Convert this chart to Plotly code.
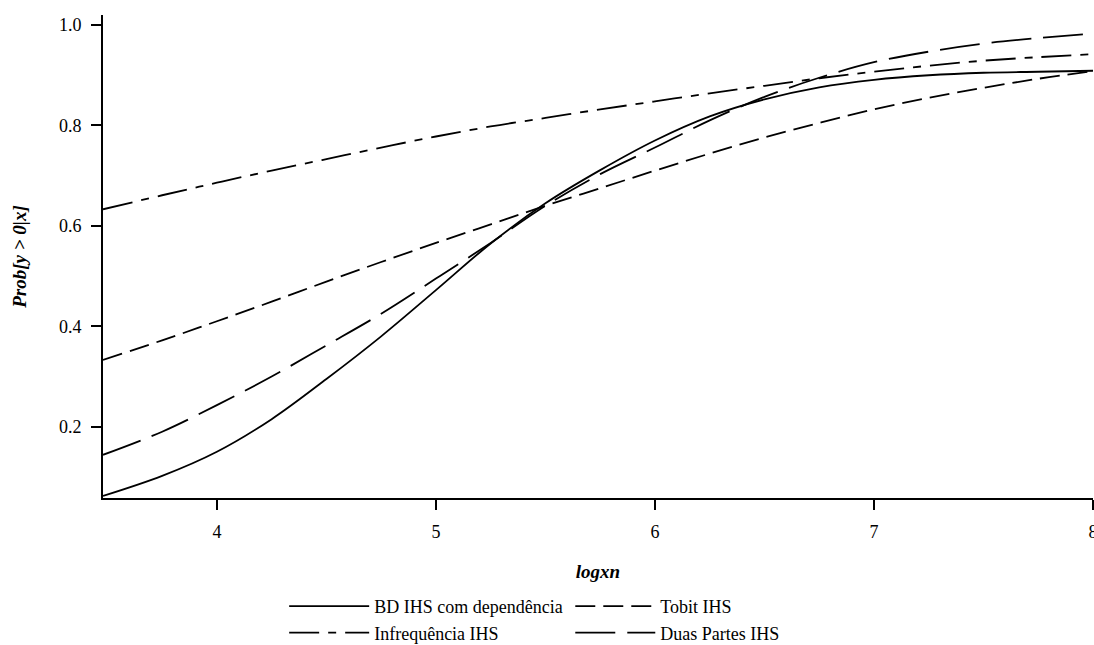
import plotly.graph_objects as go

logxn = [3.48, 3.75, 4.0, 4.25, 4.5, 4.75, 5.0, 5.25, 5.5, 5.75, 6.0,
         6.25, 6.5, 6.75, 7.0, 7.25, 7.5, 7.75, 8.0]

bd_ihs_dep = [0.062, 0.102, 0.150, 0.215, 0.295, 0.380, 0.472, 0.565, 0.645, 0.711, 0.770,
              0.818, 0.852, 0.876, 0.891, 0.900, 0.905, 0.907, 0.909]
tobit_ihs = [0.333, 0.372, 0.410, 0.449, 0.489, 0.528, 0.566, 0.603, 0.640, 0.675, 0.710,
             0.744, 0.776, 0.805, 0.832, 0.855, 0.875, 0.893, 0.908]
infreq_ihs = [0.633, 0.661, 0.686, 0.710, 0.733, 0.756, 0.778, 0.798, 0.815, 0.832, 0.848,
              0.864, 0.879, 0.894, 0.907, 0.919, 0.929, 0.936, 0.942]
duas_partes_ihs = [0.144, 0.190, 0.243, 0.300, 0.362, 0.425, 0.495, 0.566, 0.640, 0.703, 0.756,
                   0.810, 0.857, 0.895, 0.926, 0.947, 0.963, 0.974, 0.983]

x_ticks = [4, 5, 6, 7, 8]
y_ticks = [0.2, 0.4, 0.6, 0.8, 1.0]

FONT = "Liberation Serif"

fig = go.Figure()
series = [
    ("BD IHS com dependência", bd_ihs_dep, "solid", "legend"),
    ("Tobit IHS", tobit_ihs, "20px,8px", "legend2"),
    ("Infrequência IHS", infreq_ihs, "30px,9px,8px,9px", "legend"),
    ("Duas Partes IHS", duas_partes_ihs, "40px,12px", "legend2"),
]
for name, vals, dash, lg in series:
    fig.add_trace(go.Scatter(
        x=logxn, y=vals, mode="lines", name=name, legend=lg,
        line=dict(color="black", width=1.8, dash=dash, shape="spline"),
    ))

legend_common = dict(
    orientation="v", yanchor="top", xanchor="left", yref="container",
    font=dict(family=FONT, size=18, color="black"),
    bgcolor="rgba(0,0,0,0)", itemwidth=80, tracegroupgap=0,
)

fig.update_layout(
    width=1094, height=645,
    margin=dict(l=103, r=1, t=15, b=147),
    paper_bgcolor="white", plot_bgcolor="white",
    font=dict(family=FONT, size=18, color="black"),
    legend=dict(x=0.183, y=0.0884, **legend_common),
    legend2=dict(x=0.472, y=0.0884, **legend_common),
    xaxis=dict(
        range=[3.48, 8.0], tickvals=x_ticks, ticktext=[str(v) for v in x_ticks],
        showline=True, linecolor="black", linewidth=2, showgrid=False, zeroline=False,
        ticks="outside", ticklen=10, tickwidth=1.5, tickcolor="black",
        tickfont=dict(family=FONT, size=18), ticklabelstandoff=6,
        ticklabeloverflow="allow", automargin=False,
        title=dict(text="<b><i>logxn</i></b>", font=dict(family=FONT, size=19), standoff=24),
    ),
    yaxis=dict(
        range=[0.058, 1.02], tickvals=y_ticks, tickformat=".1f",
        showline=True, linecolor="black", linewidth=2, showgrid=False, zeroline=False,
        ticks="outside", ticklen=10, tickwidth=1.5, tickcolor="black",
        tickfont=dict(family=FONT, size=18), ticklabelstandoff=6, automargin=False,
        title=dict(text="<b><i>Prob[y > 0|x]</i></b>", font=dict(family=FONT, size=19), standoff=27),
    ),
)

fig.write_html(
    "out.html",
    config={"displayModeBar": False},
    post_script="document.body.style.margin='0';document.body.style.overflow='hidden';",
)
